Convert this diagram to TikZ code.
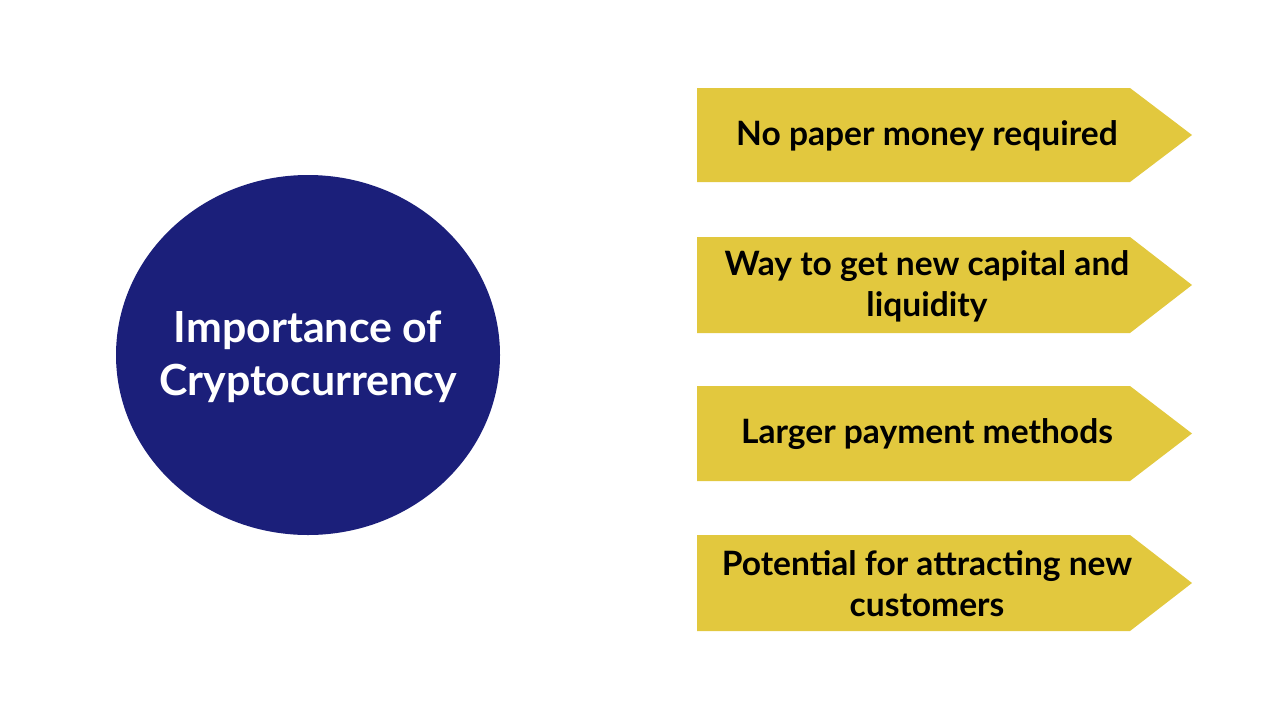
\documentclass[tikz,border=0pt]{standalone}
\usepackage{fontspec}
\setmainfont{Lato}
\usetikzlibrary{positioning}
\definecolor{cryptonavy}{RGB}{27,31,122}
\definecolor{cryptogold}{RGB}{226,200,62}

\begin{document}
\begin{tikzpicture}[
  x=0.02cm, y=-0.02cm,
  hubtext/.style={text=white, font=\fontsize{24.4}{30.5}\selectfont\bfseries, align=center},
  itemtext/.style={text=black, font=\fontsize{19.1}{23.4}\selectfont\bfseries, align=center},
]
\useasboundingbox (0,0) rectangle (1280,720);

% central circle
\fill[cryptonavy] (308,355) ellipse [x radius=192, y radius=180];
\node[hubtext] (hub) at (308,357) {Importance of\\Cryptocurrency};

% arrow-shaped boxes
\foreach \n/\top/\bot in {one/88/182, two/237/333, three/386/481, four/535/631}{
  \fill[cryptogold] (697,\top) -- (1130,\top) -- (1192,{(\top+\bot)/2}) -- (1130,\bot) -- (697,\bot) -- cycle;
  \coordinate (\n) at (927,{(\top+\bot)/2+1});
}

\node[itemtext] (t1) at (one) {No paper money required};
\node[itemtext] (t2) at (two) {Way to get new capital and\\liquidity};
\node[itemtext] (t3) at (three) {Larger payment methods};
\node[itemtext] (t4) at (four) {Potential for attracting new\\customers};
\end{tikzpicture}
\end{document}
